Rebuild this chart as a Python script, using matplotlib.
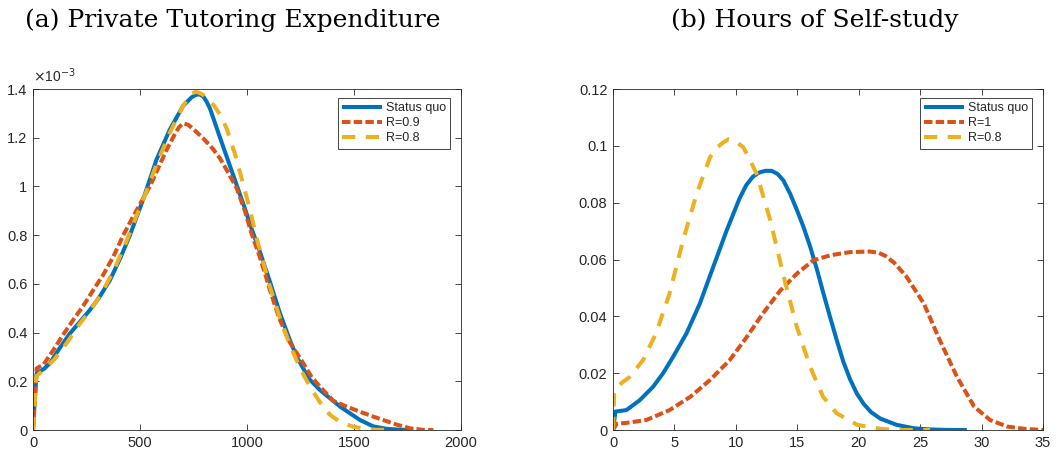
import matplotlib
matplotlib.use("Agg")
import matplotlib.pyplot as plt
from matplotlib.ticker import FuncFormatter

# ---------------- data: (a) private tutoring expenditure (density, x1e-3) ----------------
exp_sq_x = [0, 8, 17, 50, 79, 120, 173, 220, 266, 310, 360, 410, 453, 514, 577, 639, 701, 740,
            760, 777, 795, 810, 827, 874, 910, 952, 990, 1020, 1061, 1107, 1154, 1200, 1232,
            1290, 1341, 1435, 1528, 1590, 1650, 1720, 1777]
exp_sq_y = [0, 0.12, 0.233, 0.25, 0.274, 0.33, 0.397, 0.445, 0.493, 0.545, 0.616, 0.71, 0.80,
            0.945, 1.11, 1.233, 1.33, 1.365, 1.376, 1.378, 1.37, 1.35, 1.32, 1.20, 1.11, 1.005,
            0.91, 0.83, 0.73, 0.609, 0.479, 0.37, 0.301, 0.21, 0.164, 0.096, 0.041, 0.015,
            0.005, 0.001, 0]

exp_r09_x = [0, 8, 17, 50, 95, 140, 188, 235, 282, 330, 375, 422, 470, 546, 624, 660, 682, 702,
             725, 750, 796, 840, 874, 910, 952, 990, 1020, 1060, 1092, 1107, 1150, 1200, 1263,
             1300, 1341, 1403, 1466, 1528, 1590, 1650, 1700, 1762, 1820, 1871]
exp_r09_y = [0, 0.12, 0.253, 0.27, 0.328, 0.39, 0.452, 0.51, 0.575, 0.64, 0.711, 0.80, 0.88, 1.0,
             1.15, 1.21, 1.243, 1.259, 1.253, 1.235, 1.197, 1.155, 1.115, 1.06, 0.992, 0.90,
             0.81, 0.71, 0.62, 0.575, 0.46, 0.36, 0.274, 0.22, 0.178, 0.12, 0.096, 0.075, 0.055,
             0.037, 0.022, 0.007, 0.001, 0]

exp_r08_x = [0, 8, 15, 48, 100, 160, 220, 275, 329, 380, 430, 480, 530, 577, 639, 701, 741, 760,
             775, 795, 810, 843, 874, 905, 945, 983, 1015, 1045, 1073, 1100, 1150, 1200, 1250,
             1294, 1340, 1388, 1440, 1495, 1550, 1600, 1680]
exp_r08_y = [0, 0.10, 0.22, 0.246, 0.29, 0.36, 0.438, 0.50, 0.575, 0.66, 0.76, 0.87, 0.98, 1.09,
             1.22, 1.33, 1.382, 1.388, 1.385, 1.376, 1.365, 1.335, 1.295, 1.238, 1.13, 1.006,
             0.90, 0.787, 0.70, 0.609, 0.47, 0.35, 0.25, 0.178, 0.115, 0.062, 0.03, 0.014,
             0.005, 0.001, 0]

# ---------------- data: (b) hours of self-study (density) ----------------
hrs_sq_x = [0, 0.2, 1.09, 2.18, 3.26, 4.08, 4.9, 5.98, 7.07, 8.16, 9.25, 10.3, 10.85, 11.4, 11.9,
            12.4, 12.9, 13.4, 13.87, 14.4, 14.96, 15.5, 16.05, 16.6, 17.1, 17.65, 18.2, 18.75,
            19.3, 19.85, 20.4, 21.0, 21.76, 23.1, 24.5, 25.8, 27.0, 28.8]
hrs_sq_y = [0, 0.0065, 0.0070, 0.0105, 0.0152, 0.020, 0.0258, 0.034, 0.0445, 0.0574, 0.0702,
            0.0815, 0.0862, 0.0892, 0.0906, 0.0912, 0.0912, 0.0901, 0.0878, 0.0833, 0.0775,
            0.0715, 0.0645, 0.0565, 0.0485, 0.040, 0.0318, 0.024, 0.0178, 0.0128, 0.0092,
            0.0063, 0.0040, 0.0018, 0.0006, 0.0002, 0.00005, 0]

hrs_r1_x = [0, 0.3, 1.09, 2.7, 4.6, 6.3, 7.9, 9.5, 10.9, 12.2, 13.6, 14.96, 16.3, 17.7, 19.3,
            20.9, 21.6, 22.2, 22.9, 23.9, 25.3, 26.6, 28.0, 29.4, 30.7, 32.1, 33.5, 35.0]
hrs_r1_y = [0, 0.0022, 0.0025, 0.0035, 0.007, 0.0117, 0.0176, 0.0246, 0.0328, 0.041, 0.049,
            0.055, 0.0597, 0.0615, 0.0626, 0.0628, 0.0624, 0.0612, 0.0588, 0.0539, 0.0445,
            0.0316, 0.0187, 0.0082, 0.0035, 0.0012, 0.0004, 0]

hrs_r08_x = [0, 0.1, 0.3, 1.36, 2.45, 3.5, 4.6, 5.7, 6.8, 7.9, 8.5, 9.0, 9.4, 9.9, 10.6, 11.1,
             11.7, 12.8, 13.9, 14.96, 16.05, 17.1, 18.2, 19.9, 21.8, 23.1, 25.8]
hrs_r08_y = [0, 0.013, 0.0152, 0.0187, 0.0246, 0.034, 0.048, 0.0667, 0.083, 0.096, 0.0995,
             0.1013, 0.1023, 0.1018, 0.0995, 0.0955, 0.090, 0.0738, 0.0539, 0.0363, 0.0222,
             0.0117, 0.0059, 0.0018, 0.0004, 0, 0]

titles = ["(a) Private Tutoring Expenditure", "(b) Hours of Self-study"]
labels_a = ["Status quo", "R=0.9", "R=0.8"]
labels_b = ["Status quo", "R=1", "R=0.8"]
xticks_a = [0, 500, 1000, 1500, 2000]
yticks_a = [0, 0.2, 0.4, 0.6, 0.8, 1.0, 1.2, 1.4]
xticks_b = [0, 5, 10, 15, 20, 25, 30, 35]
yticks_b = [0, 0.02, 0.04, 0.06, 0.08, 0.1, 0.12]

# ---------------- style ----------------
BLUE, ORANGE, YELLOW = "#0072BD", "#D95319", "#EDB120"
AX_COLOR = "#262626"
LW = 2.9
styles = [dict(color=BLUE, lw=LW, ls="-", solid_capstyle="butt"),
          dict(color=ORANGE, lw=LW, ls=(0, (2.1, 0.8))),
          dict(color=YELLOW, lw=LW, ls=(0, (3.3, 2.6)))]

plt.rcParams["font.family"] = ["Liberation Sans", "DejaVu Sans"]

fig = plt.figure(figsize=(10.58, 4.54), dpi=100)
ax1 = fig.add_axes([33 / 1058, (454 - 430) / 454, 428 / 1058, 341 / 454])
ax2 = fig.add_axes([613 / 1058, (454 - 430) / 454, 430 / 1058, 341 / 454])


def style_axes(ax, xticks, yticks, xlim, ylim):
    ax.set_xlim(*xlim)
    ax.set_ylim(*ylim)
    ax.set_xticks(xticks)
    ax.set_yticks(yticks)
    for s in ax.spines.values():
        s.set_color(AX_COLOR)
        s.set_linewidth(0.6)
    ax.tick_params(direction="in", top=True, right=True, length=4, width=0.6,
                   color=AX_COLOR, labelcolor=AX_COLOR, labelsize=10.5, pad=4)


# panel (a)
series_a = [(exp_sq_x, exp_sq_y), (exp_r09_x, exp_r09_y), (exp_r08_x, exp_r08_y)]
for (x, y), st, lab in zip(series_a, styles, labels_a):
    ax1.plot(x, [v * 1e-3 for v in y], label=lab, **st)
style_axes(ax1, xticks_a, [v * 1e-3 for v in yticks_a], (0, 2000), (0, 1.4e-3))
ax1.yaxis.set_major_formatter(FuncFormatter(lambda v, p: f"{v * 1e3:g}"))
ax1.text(0.0, 1.012, r"$\times$10$^{-3}$", transform=ax1.transAxes, fontsize=10,
         color=AX_COLOR, ha="left", va="bottom")

# panel (b)
series_b = [(hrs_sq_x, hrs_sq_y), (hrs_r1_x, hrs_r1_y), (hrs_r08_x, hrs_r08_y)]
for (x, y), st, lab in zip(series_b, styles, labels_b):
    ax2.plot(x, y, label=lab, **st)
style_axes(ax2, xticks_b, yticks_b, (0, 35), (0, 0.12))
ax2.yaxis.set_major_formatter(FuncFormatter(lambda v, p: f"{v:g}"))

for ax in (ax1, ax2):
    leg = ax.legend(loc="upper right", bbox_to_anchor=(0.975, 0.975), fontsize=9,
                    handlelength=3.2, handletextpad=0.3, borderpad=0.35, labelspacing=0.25,
                    fancybox=False, framealpha=1, borderaxespad=0)
    leg.get_frame().set_edgecolor(AX_COLOR)
    leg.get_frame().set_linewidth(0.6)
    for t in leg.get_texts():
        t.set_color(AX_COLOR)

fig.text(233 / 1058, 1 - 20 / 454, titles[0], ha="center", va="center",
         fontsize=18, family="DejaVu Serif")
fig.text(815 / 1058, 1 - 20 / 454, titles[1], ha="center", va="center",
         fontsize=18, family="DejaVu Serif")

fig.savefig("out.png", dpi=100)
